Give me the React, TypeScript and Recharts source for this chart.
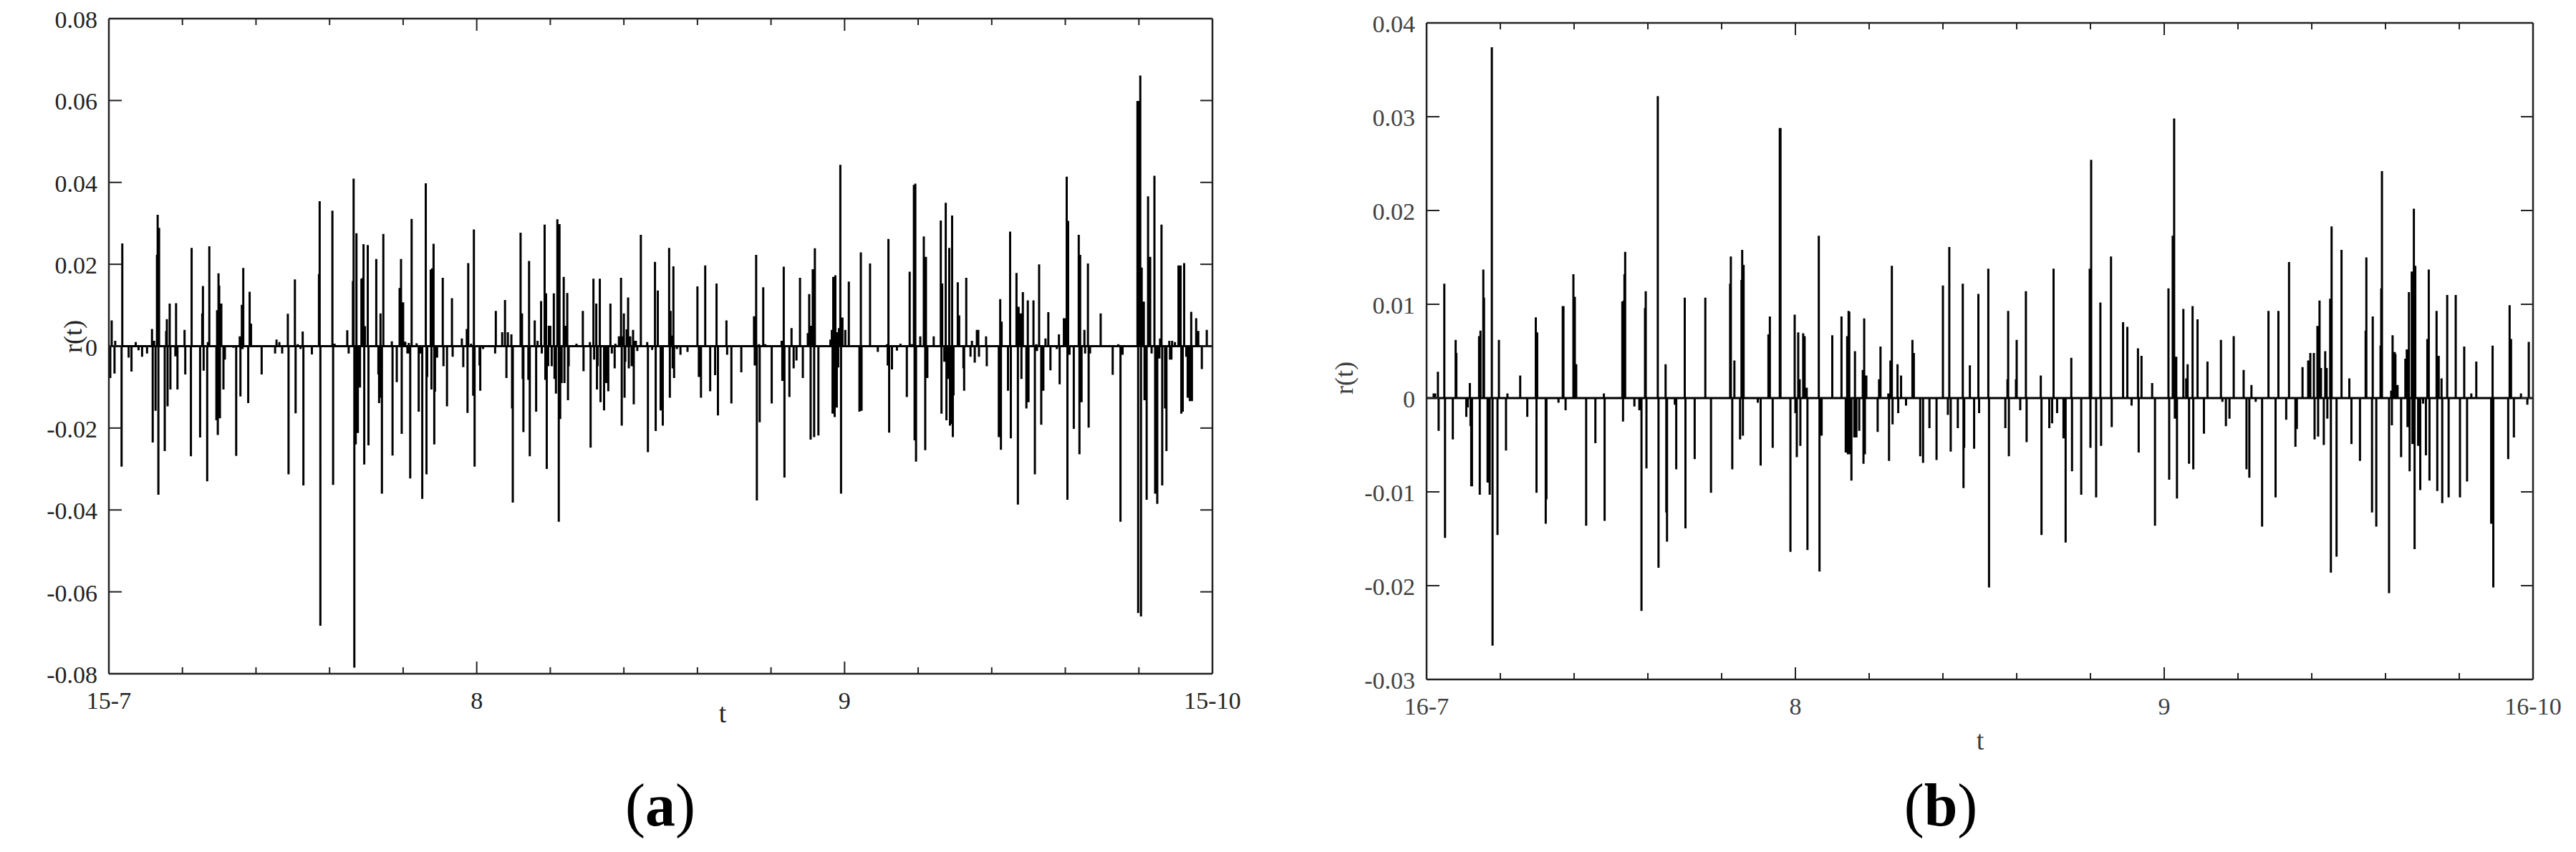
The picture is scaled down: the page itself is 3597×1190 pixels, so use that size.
import React from 'react';
import { LineChart, Line, XAxis, YAxis } from 'recharts';

const FONT = "'Liberation Serif', 'DejaVu Serif', serif";
const AXIS = '#222222';

// observation index; 104 observations between minor ticks
const timeTicks = [0, 104, 208, 312, 416, 520, 624, 728, 832, 936, 1040, 1144, 1248, 1352, 1456, 1560];
const labelledTicks = [0, 520, 1040, 1560];
const dateLabelsA = ['15-7', '8', '9', '15-10'];
const dateLabelsB = ['16-7', '8', '9', '16-10'];

const rTicksA = [-0.08, -0.06, -0.04, -0.02, 0, 0.02, 0.04, 0.06, 0.08];
const rTicksB = [-0.03, -0.02, -0.01, 0, 0.01, 0.02, 0.03, 0.04];

// panel (a): [observation, r(t)]
const returnsA1: [number, number][] = [
[2,-0.0078],[4,0.0063],[8,-0.0067],[9,0.0013],[18,-0.0294],[19,0.0251],[28,-0.0028],[32,-0.0062],[38,0.001],[42,-0.001],[47,-0.0026],[54,-0.0018],[61,0.0042],[62,-0.0235],[64,0.0013],[66,-0.0158],[68,0.0223],[69,0.0321],[70,-0.0363],[71,0.0289],[79,-0.0256],[81,0.0037],[82,0.0066],[83,-0.0147],[86,0.0104],[87,-0.0106],[94,-0.0025],[95,0.0105],[97,-0.0106],[107,0.004],[108,-0.0069],[116,-0.0269],[117,0.024],[129,-0.0223],[132,0.008],[133,0.0147],[134,-0.006],[139,-0.033],[140,0.001],[142,0.0244],[152,-0.0181],[153,0.0088],[154,-0.0217],[155,0.0178],[156,0.0148],[157,-0.0176],[159,0.0104],[162,-0.0106],[164,-0.0033],[176,-0.0004],[180,-0.0268],[185,0.0024],[186,-0.0123],[188,0.0101],[189,-0.0007],[190,0.0191],[197,-0.0139],[199,0.0133],[201,0.0055],[216,-0.0069],[235,-0.0018],[237,0.0016],[241,0.001],[245,-0.0018],[253,0.0079],[254,-0.0313],[263,0.0163],[264,-0.0164],[267,0.0005],[271,-0.0007],[274,0.0036],[275,-0.034],[287,-0.002],[297,0.0176],[298,0.0354],[299,-0.0683],[316,0.0331],[317,-0.0339],[319,0.0006],[337,0.0039],[339,-0.0018],[345,0.0159],[346,0.0409],[347,-0.0785],[349,-0.024],[350,0.0276],[351,-0.0101],[352,-0.0212],[355,-0.0101],[357,0.0165],[359,0.0167],[360,0.0249],[361,-0.0289],[362,0.0049],[366,0.0247],[367,-0.0242],[378,0.0213],[381,-0.0069],[382,-0.0139],[384,0.008],[385,-0.0126],[386,-0.036],[388,0.0274],[400,0.0012],[401,-0.0267],[407,-0.0088],[411,0.0142],[413,0.0213],[414,-0.0214],[416,0.0107],[419,0.0011],[422,-0.0018],[424,0.0008],[425,-0.0018],[426,-0.0323],[428,0.0311],[435,0.0007],[438,-0.016],[440,-0.0018],[443,-0.0373],[448,0.0398],[449,-0.0313],[450,-0.0075],[455,0.0187],[456,-0.0106],[457,0.019],[459,0.025],[460,-0.024],[461,-0.0111],[464,-0.0028],[472,0.0167],[473,-0.0049],[478,-0.0147],[485,0.0117],[486,-0.0026],[499,0.0019],[501,-0.0051],[506,0.0042],[507,-0.0163],[508,0.0203],[512,0.0006],[515,-0.0121],[516,0.0285],[517,-0.0294],[524,-0.0047],[525,-0.0109],[529,-0.0007],[546,-0.0018],[547,0.0086],[556,0.0034],[560,0.0113],[562,-0.0078],[564,0.0034],[569,0.0029],[570,-0.0152],[571,-0.0382],[582,0.0277],[584,0.008],[585,-0.008],[586,-0.021],[593,-0.0082],[594,0.0208],[595,-0.0269],[602,0.0063],[604,-0.016],[606,0.0013],[607,-0.0003],[611,0.011],[612,-0.0018],[616,0.0297],[617,-0.0082],[618,0.0129],[619,-0.03],[621,-0.0049],[622,0.005],[624,0.005],[626,-0.0049],[629,0.0129],[630,-0.008],[632,-0.0116],[634,0.031],[636,-0.0429],[637,0.0298],[638,-0.0178],[640,-0.009],[643,0.0169],[644,-0.009],[645,0.005],[648,0.013],[649,-0.0132],[650,-0.0049],[661,0.0006],[670,0.0086],[671,-0.0061],[680,0.001],[681,-0.0248],[685,0.0165],[686,-0.0033],[689,0.0104],[690,-0.0106],[691,-0.0049],[694,0.0165],[695,-0.0137],[700,-0.0157],[703,-0.009],[706,-0.011],[709,0.0104],[711,-0.0018],[715,-0.0054],[716,0.0006],[721,0.0024],[724,0.0167],[725,-0.0194],[726,0.0024],[728,0.008],[729,-0.0126],[730,-0.0038],[732,0.0041],[734,0.0119],[735,-0.0054],[737,0.0024],[739,-0.0049],[741,0.004],[742,-0.0142],[744,0.0013],[745,0.0013],[747,-0.0012],[752,0.0272],[761,0.001],[762,-0.0259],[768,-0.0009],[772,0.0206],[773,-0.0207],[776,0.0136],[780,-0.0157]
];
const returnsA2: [number, number][] = [
[783,-0.0194],[792,0.024],[793,-0.0126],[794,0.0086],[796,0.0026],[797,-0.0054],[798,0.0195],[799,-0.0078],[803,-0.0007],[808,-0.0021],[818,-0.0014],[832,0.0146],[834,-0.0075],[837,-0.0126],[843,0.0197],[850,-0.011],[857,-0.0071],[859,0.0153],[861,-0.0169],[873,0.0063],[874,-0.0021],[880,-0.014],[894,-0.0064],[912,0.0073],[913,-0.0047],[915,0.0223],[916,-0.0377],[919,0.0005],[920,-0.0186],[925,0.0144],[928,0.0005],[937,-0.014],[951,0.0013],[952,-0.0085],[954,0.0194],[955,-0.0321],[962,-0.0124],[965,0.0044],[968,-0.0054],[972,-0.0035],[977,0.0167],[981,-0.0078],[988,0.0032],[990,0.0127],[992,-0.0228],[993,0.005],[995,0.0188],[997,-0.0222],[998,0.0239],[1003,-0.0218],[1020,0.0016],[1022,0.004],[1023,-0.0165],[1024,0.0169],[1026,-0.0173],[1027,0.0173],[1029,-0.015],[1030,0.0034],[1031,-0.0052],[1032,0.0044],[1034,0.0443],[1035,-0.036],[1037,0.007],[1041,0.004],[1046,0.0158],[1061,-0.016],[1063,0.0229],[1064,-0.0158],[1076,0.0202],[1087,-0.0014],[1100,0.0005],[1101,-0.0047],[1102,0.0262],[1103,-0.0211],[1107,-0.0057],[1114,-0.0011],[1119,0.0006],[1128,-0.0124],[1132,0.0182],[1135,0.0005],[1138,0.0394],[1139,-0.023],[1140,0.0397],[1141,-0.0282],[1147,0.0024],[1152,0.0268],[1154,-0.0254],[1155,0.0218],[1157,-0.0078],[1166,0.0024],[1176,0.0307],[1177,-0.0165],[1178,0.0153],[1181,-0.0038],[1183,0.035],[1184,-0.0181],[1186,-0.008],[1188,0.024],[1189,-0.0194],[1190,-0.019],[1192,0.0319],[1193,-0.0222],[1194,-0.012],[1200,0.0156],[1202,0.0075],[1208,-0.0054],[1209,-0.0109],[1212,0.0167],[1218,-0.0026],[1220,0.0013],[1224,-0.004],[1227,0.004],[1229,0.004],[1230,-0.0026],[1240,0.0024],[1241,-0.0049],[1258,-0.0222],[1260,0.0115],[1261,-0.0253],[1262,0.006],[1271,-0.0109],[1274,0.028],[1275,-0.0225],[1283,0.0179],[1285,-0.0387],[1286,0.0096],[1289,0.008],[1290,-0.008],[1292,0.0132],[1297,-0.0152],[1299,0.0112],[1300,-0.0137],[1307,0.0112],[1309,-0.0313],[1311,0.0005],[1312,-0.0012],[1315,0.02],[1318,-0.0192],[1321,-0.0109],[1324,0.0019],[1328,0.0083],[1331,-0.0059],[1340,-0.0007],[1343,0.0029],[1344,-0.0093],[1350,0.0068],[1352,0.0068],[1354,0.0414],[1355,-0.0375],[1356,0.0306],[1358,-0.0021],[1364,-0.0202],[1371,0.0272],[1372,-0.0264],[1373,0.0223],[1375,-0.0137],[1379,0.004],[1380,-0.0018],[1384,0.0202],[1385,-0.0199],[1387,-0.0018],[1402,0.008],[1419,-0.007],[1427,0.0005],[1430,-0.0429],[1433,-0.0021],[1454,0.0599],[1455,-0.0652],[1456,0.0599],[1458,0.0661],[1459,-0.066],[1460,0.0192],[1463,0.0109],[1464,-0.0132],[1467,-0.0375],[1469,0.0366],[1472,0.0218],[1474,-0.0018],[1478,0.0416],[1479,-0.036],[1482,-0.0385],[1485,-0.003],[1486,0.0019],[1488,0.0297],[1489,-0.034],[1493,-0.0152],[1495,-0.0256],[1499,0.0013],[1500,-0.0033],[1502,-0.0033],[1503,0.0013],[1507,0.001],[1512,0.0197],[1515,0.0197],[1516,-0.0165],[1518,-0.016],[1520,0.0203],[1523,-0.0026],[1525,-0.0126],[1528,-0.0134],[1530,0.0084],[1531,-0.0134],[1537,0.0068],[1540,0.0037],[1545,-0.0056],[1552,0.004]
];

// panel (b): [observation, r(t)]
const returnsB1: [number, number][] = [
[10,0.0005],[12,0.0005],[16,0.0028],[17,-0.0035],[25,0.0122],[26,-0.0149],[37,-0.0044],[41,0.0062],[42,0.0048],[56,-0.002],[58,-0.001],[61,0.0016],[62,-0.003],[63,-0.0094],[64,-0.0094],[74,0.0066],[75,-0.0103],[76,0.0072],[80,0.0137],[81,0.0107],[86,-0.009],[89,-0.0103],[92,0.0374],[93,-0.0264],[100,-0.0146],[102,0.0062],[112,-0.0056],[114,0.0005],[132,0.0024],[142,-0.002],[154,0.0086],[155,-0.0101],[156,0.007],[168,-0.0134],[169,-0.0108],[186,-0.0005],[192,0.0098],[193,0.0098],[196,-0.0013],[207,0.0132],[209,0.0108],[210,0.0036],[211,0.0036],[225,-0.0136],[238,-0.0048],[250,0.0005],[251,-0.0131],[276,0.0103],[277,-0.0025],[278,0.0104],[279,0.0132],[280,0.0156],[293,-0.0009],[300,-0.0013],[303,-0.0227],[308,0.0096],[309,0.0114],[310,-0.0075],[326,0.0322],[327,-0.0181],[337,0.0036],[338,-0.0122],[339,-0.0153],[350,-0.0007],[352,-0.0076],[364,0.0107],[365,-0.0139],[378,-0.0065],[393,0.0107],[401,-0.0101],[428,0.0122],[429,0.0151],[431,-0.0076],[434,0.004],[442,-0.0044],[444,0.0126],[445,0.0158],[446,-0.004],[447,0.0142],[467,-0.0005],[471,-0.0072],[482,0.0068],[484,0.0087],[488,-0.0053],[498,0.0288],[499,0.0288],[513,-0.0164],[519,0.0089],[520,-0.0016],[522,-0.0063],[524,0.007],[526,0.002],[527,-0.0051],[531,0.0069],[533,0.0066],[536,0.0011],[537,-0.0162],[553,0.0173],[554,-0.0185],[557,-0.004],[572,0.0067],[585,0.0087],[591,-0.0058],[593,0.0066],[594,-0.006],[595,0.0093],[596,0.0092],[597,-0.006],[599,-0.0088],[603,-0.0042],[604,0.005],[606,-0.0042],[610,-0.0035],[615,0.003],[616,-0.007],[617,0.0085],[618,-0.006],[620,0.0024],[636,-0.0036],[638,0.002],[640,0.0055],[651,0.0005],[652,-0.0067],[654,0.004],[656,0.0141],[657,-0.0028],[664,0.0036],[665,-0.0016],[669,0.0024],[676,-0.0008],[685,0.0062],[687,0.0048],[696,-0.0062],[700,-0.0069],[709,-0.0032],[719,-0.0066],[728,0.012],[735,-0.0018],[737,0.0161],[739,-0.0057],[749,-0.0032],[756,0.0122],[757,-0.0096],[758,-0.0053],[766,0.0035],[772,-0.0054],[778,0.0111],[779,-0.0016]
];
const returnsB2: [number, number][] = [
[792,0.0138],[793,-0.0202],[816,-0.0032],[819,0.002],[820,0.0093],[821,-0.0062],[831,0.002],[832,0.0062],[837,-0.0013],[845,0.0114],[846,-0.0047],[866,0.0024],[867,-0.0146],[878,-0.0032],[882,-0.0027],[884,0.0138],[889,-0.0016],[898,-0.0043],[900,-0.001],[901,-0.0154],[909,0.0043],[910,-0.0078],[923,-0.0103],[935,0.0138],[936,-0.0053],[937,0.0254],[944,-0.0106],[950,0.0102],[951,-0.0051],[965,0.0151],[966,-0.0031],[982,0.0081],[988,0.0076],[994,-0.0008],[1003,0.0053],[1004,-0.0058],[1008,0.0045],[1023,0.0016],[1027,-0.0136],[1046,0.0117],[1047,-0.0087],[1052,0.0173],[1054,0.0298],[1055,-0.0022],[1057,0.0044],[1058,-0.0107],[1067,0.0095],[1071,0.0021],[1073,0.0036],[1075,-0.007],[1080,0.0098],[1081,-0.0076],[1087,0.0084],[1096,-0.0038],[1101,0.0039],[1120,0.0062],[1122,-0.0004],[1127,-0.003],[1132,-0.0022],[1138,0.0066],[1152,0.003],[1156,-0.0076],[1160,-0.0085],[1163,0.0014],[1169,-0.0004],[1178,-0.0137],[1187,0.0093],[1197,-0.0106],[1201,0.0093],[1212,-0.0023],[1216,0.0145],[1225,-0.0052],[1227,-0.0033],[1235,0.0033],[1243,0.004],[1246,0.0048],[1251,0.0048],[1252,-0.0044],[1256,0.0077],[1257,-0.0041],[1259,0.0104],[1261,0.0032],[1265,-0.005],[1267,0.005],[1269,0.0032],[1270,-0.0022],[1274,0.0106],[1275,-0.0186],[1276,0.0183],[1283,-0.0169],[1290,0.0158],[1301,0.0021],[1304,-0.0049],[1316,-0.0067],[1324,0.0072],[1325,0.015],[1333,-0.0122],[1334,0.0087],[1339,-0.0137],[1345,0.0056],[1346,0.0117],[1347,0.0242],[1357,-0.0208],[1360,0.0008],[1361,-0.0029],[1362,0.0067],[1365,0.0049],[1366,0.0047],[1369,0.0014],[1374,-0.0063],[1380,0.0042],[1382,0.0052],[1383,-0.0031],[1385,0.0113],[1386,-0.0078],[1389,0.0135],[1390,-0.0049],[1391,0.0135],[1392,0.0202],[1393,-0.0161],[1394,0.0141],[1398,-0.0051],[1401,-0.0098],[1405,-0.0006],[1409,-0.0061],[1411,0.0063],[1413,0.0137],[1414,-0.0088],[1424,0.0093],[1425,-0.0099],[1427,0.0045],[1431,0.0021],[1432,-0.0112],[1439,0.011],[1441,-0.0106],[1451,0.011],[1457,-0.0106],[1463,0.0055],[1467,-0.0089],[1473,0.0005],[1480,0.0039],[1501,-0.0134],[1503,0.0056],[1504,-0.0202],[1525,-0.0065],[1527,0.0099],[1529,0.0063],[1533,-0.0042],[1543,0.0005],[1552,-0.0007],[1554,0.006]
];

type Pt = { t: number; r: number };

function buildSeries(spikes: [number, number][], end: number): Pt[] {
  const sorted = [...spikes].sort((a, b) => a[0] - b[0]);
  const out: Pt[] = [{ t: 0, r: 0 }];
  for (const [t, v] of sorted) {
    out.push({ t, r: 0 }, { t, r: v }, { t, r: 0 });
  }
  out.push({ t: end, r: 0 });
  return out;
}

const seriesA = buildSeries([...returnsA1, ...returnsA2], 1560);
const seriesB = buildSeries([...returnsB1, ...returnsB2], 1560);

const fmtR = (v: number) => (Math.abs(v) < 1e-9 ? '0' : v.toFixed(2));

type PanelProps = {
  data: Pt[];
  rTicks: number[];
  dateLabels: string[];
  chartWidth: number;
  yAxisWidth: number;
  marginTop: number;
  marginRight: number;
  xAxisHeight: number;
  labelFill: string;
};

function Panel(props: PanelProps) {
  const { data, rTicks, dateLabels, chartWidth, yAxisWidth, marginTop, marginRight, xAxisHeight, labelFill } = props;
  const rDomain: [number, number] = [rTicks[0], rTicks[rTicks.length - 1]];
  const labelFor = (v: number) => {
    const i = labelledTicks.indexOf(v);
    return i >= 0 ? dateLabels[i] : null;
  };

  const bottomTick = (p: any) => {
    const { x, y, payload } = p;
    const lab = labelFor(payload.value);
    const len = lab !== null ? 17 : 9;
    return (
      <g>
        <line x1={x} x2={x} y1={y} y2={y - len} stroke={AXIS} strokeWidth={2} />
        {lab !== null && (
          <text x={x} y={y + 49} textAnchor="middle" fontSize={34} fontFamily={FONT} fill={labelFill}>
            {lab}
          </text>
        )}
      </g>
    );
  };
  const topTick = (p: any) => {
    const { x, y, payload } = p;
    const len = labelFor(payload.value) !== null ? 17 : 9;
    return <line x1={x} x2={x} y1={y} y2={y + len} stroke={AXIS} strokeWidth={2} />;
  };
  const leftTick = (p: any) => {
    const { x, y, payload } = p;
    return (
      <g>
        <line x1={x} x2={x + 18} y1={y} y2={y} stroke={AXIS} strokeWidth={2} />
        <text x={x - 16} y={y + 13} textAnchor="end" fontSize={34} fontFamily={FONT} fill={labelFill}>
          {fmtR(payload.value)}
        </text>
      </g>
    );
  };
  const rightTick = (p: any) => {
    const { x, y } = p;
    return <line x1={x} x2={x - 17} y1={y} y2={y} stroke={AXIS} strokeWidth={2} />;
  };

  const axisLine = { stroke: AXIS, strokeWidth: 2.5 };

  return (
    <LineChart
      width={chartWidth}
      height={1190}
      data={data}
      margin={{ top: marginTop, right: marginRight, bottom: 0, left: 0 }}
    >
      <XAxis
        xAxisId="bottom"
        dataKey="t"
        type="number"
        domain={[0, 1560]}
        ticks={timeTicks}
        interval={0}
        tickSize={0}
        tickMargin={0}
        tickLine={false}
        height={xAxisHeight}
        axisLine={axisLine}
        tick={bottomTick}
        allowDataOverflow
      />
      <XAxis
        xAxisId="top"
        orientation="top"
        dataKey="t"
        type="number"
        domain={[0, 1560]}
        ticks={timeTicks}
        interval={0}
        tickSize={0}
        tickMargin={0}
        tickLine={false}
        height={1}
        axisLine={axisLine}
        tick={topTick}
        allowDataOverflow
      />
      <YAxis
        yAxisId="left"
        type="number"
        domain={rDomain}
        ticks={rTicks}
        interval={0}
        tickSize={0}
        tickMargin={0}
        tickLine={false}
        width={yAxisWidth}
        axisLine={axisLine}
        tick={leftTick}
        allowDataOverflow
      />
      <YAxis
        yAxisId="right"
        orientation="right"
        type="number"
        domain={rDomain}
        ticks={rTicks}
        interval={0}
        tickSize={0}
        tickMargin={0}
        tickLine={false}
        width={1}
        axisLine={axisLine}
        tick={rightTick}
        allowDataOverflow
      />
      <Line
        xAxisId="top"
        yAxisId="right"
        dataKey="r"
        type="linear"
        stroke="transparent"
        strokeWidth={0}
        dot={false}
        activeDot={false}
        legendType="none"
        isAnimationActive={false}
      />
      <Line
        xAxisId="bottom"
        yAxisId="left"
        dataKey="r"
        type="linear"
        stroke="#000000"
        strokeWidth={3}
        dot={false}
        activeDot={false}
        isAnimationActive={false}
      />
    </LineChart>
  );
}

export default function App() {
  return (
    <div style={{ position: 'absolute', left: 0, top: 0, width: 3597, height: 1190, background: '#fff', overflow: 'hidden' }}>
      <div style={{ position: 'absolute', left: 0, top: -1 }}>
        <Panel
          data={seriesA}
          rTicks={rTicksA}
          dateLabels={dateLabelsA}
          chartWidth={1800}
          yAxisWidth={152}
          marginTop={26}
          marginRight={106}
          xAxisHeight={248}
          labelFill="#222222"
        />
      </div>
      <div style={{ position: 'absolute', left: 1800, top: -1 }}>
        <Panel
          data={seriesB}
          rTicks={rTicksB}
          dateLabels={dateLabelsB}
          chartWidth={1797}
          yAxisWidth={192}
          marginTop={32}
          marginRight={59}
          xAxisHeight={240}
          labelFill="#404040"
        />
      </div>
      <svg width={3597} height={1190} style={{ position: 'absolute', left: 0, top: 0, pointerEvents: 'none' }}>
        <text x={1009} y={1009} textAnchor="middle" fontSize={38} fontFamily={FONT} fill="#222">t</text>
        <text x={2765} y={1047} textAnchor="middle" fontSize={38} fontFamily={FONT} fill="#404040">t</text>
        <text transform="translate(114,470) rotate(-90)" textAnchor="middle" fontSize={36} fontFamily={FONT} fill="#222">r(t)</text>
        <text transform="translate(1889,528) rotate(-90)" textAnchor="middle" fontSize={36} fontFamily={FONT} fill="#404040">r(t)</text>
        <text x={922} y={1153} textAnchor="middle" fontSize={84} fontFamily={FONT} fill="#000">
          (<tspan fontWeight="bold">a</tspan>)
        </text>
        <text x={2710} y={1153} textAnchor="middle" fontSize={84} fontFamily={FONT} fill="#000">
          (<tspan fontWeight="bold">b</tspan>)
        </text>
      </svg>
    </div>
  );
}
